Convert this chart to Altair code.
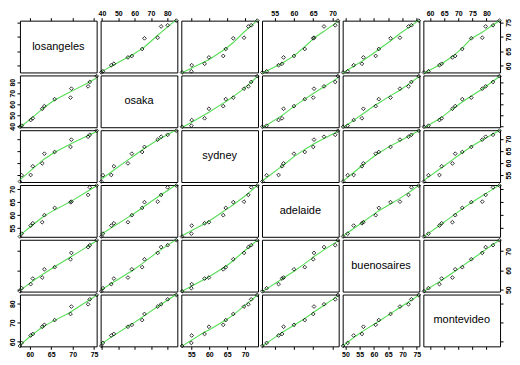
import altair as alt
import pandas as pd

cities = ["losangeles", "osaka", "sydney", "adelaide", "buenosaires", "montevideo"]

# sorted monthly temperatures
losangeles = [57.7, 58.1, 60.2, 60.7, 62.9, 63.4, 65.8, 69.5, 69.7, 73.6, 74.0, 75.6]
osaka = [39.6, 40.6, 45.7, 47.3, 55.9, 58.3, 64.6, 66.0, 74.1, 76.2, 80.2, 85.5]
sydney = [52.4, 55.0, 55.1, 58.7, 59.9, 63.9, 64.6, 66.7, 69.7, 70.9, 71.7, 73.4]
adelaide = [51.8, 52.9, 56.0, 56.9, 57.3, 60.0, 62.8, 65.0, 65.2, 67.8, 70.7, 71.4]
buenosaires = [49.2, 50.8, 52.9, 55.8, 56.3, 60.6, 61.7, 65.8, 69.1, 72.1, 73.1, 75.7]
montevideo = [57.8, 59.4, 63.3, 64.1, 67.9, 68.9, 71.4, 74.6, 78.5, 79.7, 82.3, 84.6]

dom_lo = [57.7, 39.2, 52.2, 51.7, 49.05, 57.6]
dom_hi = [75.6, 86.1, 73.6, 71.6, 75.9, 84.8]

xticks = [[60, 65, 70, 75], [40, 50, 60, 70, 80], [55, 60, 65, 70],
          [55, 60, 65, 70], [50, 55, 60, 65, 70, 75], [60, 65, 70, 75, 80]]
yticks = [[60, 65, 70, 75], [40, 50, 60, 70, 80], [55, 60, 65, 70],
          [55, 60, 65, 70], [50, 60, 70], [60, 70, 80]]

df = pd.DataFrame({
    "losangeles": losangeles, "osaka": osaka, "sydney": sydney,
    "adelaide": adelaide, "buenosaires": buenosaires, "montevideo": montevideo,
})

W, H = 77, 52
GREEN = "#55dd55"
FONT = "Liberation Sans"

common = dict(grid=False, domain=False, tickColor="black", tickSize=3,
              labelFontSize=7, labelFont=FONT, labelColor="black",
              labelFontWeight="bold",
              labelPadding=1, format="d", title=None, tickWidth=1)


def xaxis(i, j):
    if i == 0:
        return alt.Axis(orient="top", values=xticks[j], labels=(j % 2 == 1), **common)
    if i == 5:
        return alt.Axis(orient="bottom", values=xticks[j], labels=(j % 2 == 0), **common)
    return None


def yaxis(i, j):
    if j == 0:
        return alt.Axis(orient="left", values=yticks[i], labels=(i % 2 == 1),
                        labelAngle=270, labelAlign="center", labelBaseline="bottom", **common)
    if j == 5:
        return alt.Axis(orient="right", values=yticks[i], labels=(i % 2 == 0),
                        labelAngle=270, labelAlign="center", labelBaseline="top", **common)
    return None


def cell(i, j):
    ci, cj = cities[i], cities[j]
    x = alt.X(cj, type="quantitative",
              scale=alt.Scale(domain=[dom_lo[j], dom_hi[j]], nice=False, zero=False),
              axis=xaxis(i, j))
    y = alt.Y(ci, type="quantitative",
              scale=alt.Scale(domain=[dom_lo[i], dom_hi[i]], nice=False, zero=False),
              axis=yaxis(i, j))
    base = alt.Chart(df)
    if i == j:
        pts = base.mark_point(opacity=0).encode(x=x, y=y)
        txt = alt.Chart(pd.DataFrame({"name": [ci]})).mark_text(
            font=FONT, fontSize=11, color="black").encode(
            text="name:N", x=alt.value(W / 2), y=alt.value(H / 2))
        return alt.layer(pts, txt).properties(width=W, height=H)
    pts = base.mark_point(shape="diamond", size=14, filled=False, color="black",
                          strokeWidth=0.8, opacity=1).encode(x=x, y=y)
    line = base.transform_loess(cj, ci, bandwidth=0.6).mark_line(
        color=GREEN, strokeWidth=1.1).encode(x=x, y=y)
    return alt.layer(line, pts).properties(width=W, height=H)


cells = [cell(i, j) for i in range(6) for j in range(6)]

chart = alt.concat(*cells, columns=6, spacing={"row": 3, "column": 4},
                   bounds="flush").resolve_scale(
    x="independent", y="independent"
).configure_view(stroke="black", strokeWidth=1).properties(
    padding=0, background="white"
)

chart.save("out.html", embed_options={"renderer": "svg", "actions": False})
